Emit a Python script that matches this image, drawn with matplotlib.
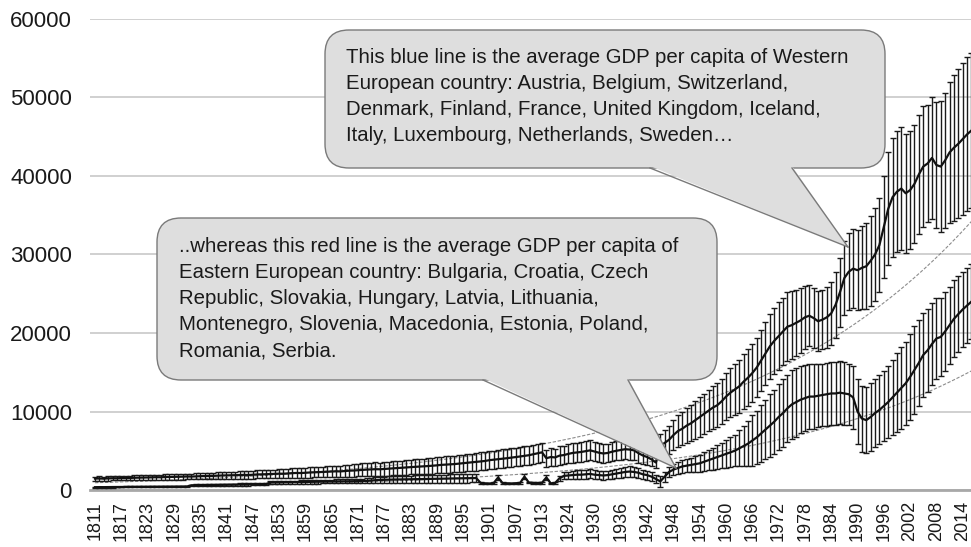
import matplotlib
matplotlib.use("Agg")
import matplotlib.pyplot as plt
import numpy as np
from matplotlib.patches import FancyBboxPatch, Polygon
from matplotlib.transforms import IdentityTransform

plt.rcParams['font.family'] = ['Liberation Sans', 'DejaVu Sans']

# years in the series (gap after 1913)
years = list(range(1811, 1914)) + list(range(1919, 2017))

# Western Europe: mean GDP per capita and error (+/-)
west_mean = [
    1450, 1470, 1440, 1480, 1500, 1490, 1520, 1510, 1540, 1560,
    1570, 1590, 1580, 1610, 1630, 1620, 1650, 1660, 1680, 1690,
    1700, 1720, 1710, 1740, 1760, 1770, 1790, 1800, 1830, 1850,
    1860, 1880, 1870, 1900, 1930, 1910, 1950, 1980, 1990, 2010,
    2040, 2060, 2080, 2070, 2110, 2150, 2170, 2160, 2200, 2230,
    2250, 2280, 2300, 2330, 2360, 2380, 2370, 2420, 2460, 2480,
    2520, 2560, 2600, 2620, 2650, 2640, 2680, 2720, 2750, 2790,
    2840, 2880, 2910, 2950, 2980, 3020, 3050, 3090, 3140, 3200,
    3230, 3270, 3300, 3360, 3420, 3480, 3530, 3580, 3640, 3700,
    3800, 3860, 3920, 3990, 4050, 4120, 4200, 4270, 4350, 4430,
    4550, 4680, 4800,
    4050, 4200, 4150, 4380, 4450,
    4600, 4720, 4780, 4850, 4950, 5050, 4900,
    4750, 4650, 4720, 4880, 5000, 5100, 5200, 5150, 5050, 4700,
    4400, 4200, 3900, 3500, 5600, 6000, 6400, 7000, 7500, 7800,
    8200, 8500, 8900, 9300, 9700, 10100, 10500, 10800, 11300, 11900,
    12400, 12800, 13200, 13800, 14300, 14900, 15600, 16500, 17400, 18300,
    19000, 19600, 20200, 20800, 21000, 21300, 21600, 22000, 22200, 21900,
    21500, 21700, 22000, 22500, 23600, 25200, 27000, 27800, 28200, 28000,
    28300, 28500, 29200, 30000, 31200, 33500, 35800, 37300, 38000, 38400,
    37800, 38200, 39000, 40200, 41200, 41600, 42300, 41400, 41200, 42000,
    43000, 43600, 44100, 44700, 45300, 45800,
]
west_err = [
    250, 260, 250, 270, 280, 270, 290, 280, 300, 300,
    310, 320, 310, 330, 330, 340, 350, 340, 360, 360,
    370, 380, 370, 390, 400, 400, 410, 420, 430, 440,
    450, 460, 450, 470, 480, 480, 500, 510, 520, 530,
    540, 550, 560, 560, 580, 600, 610, 600, 620, 640,
    650, 670, 680, 700, 720, 730, 720, 750, 770, 780,
    800, 820, 840, 850, 860, 860, 870, 880, 890, 900,
    900, 910, 930, 940, 960, 970, 990, 1000, 1020, 1030,
    1040, 1050, 1060, 1080, 1090, 1100, 1110, 1120, 1140, 1150,
    1150, 1160, 1160, 1170, 1180, 1180, 1190, 1200, 1200, 1210,
    1210, 1220, 1230,
    1100, 1150, 1120, 1180, 1200,
    1200, 1220, 1230, 1250, 1260, 1280, 1250,
    1200, 1180, 1200, 1220, 1240, 1260, 1280, 1270, 1250, 1200,
    1150, 1000, 900, 750, 1500, 1700, 1800, 1900, 2000, 2100,
    2200, 2300, 2400, 2500, 2550, 2600, 2700, 2800, 2900, 3000,
    3100, 3200, 3400, 3500, 3600, 3700, 3800, 3900, 4000, 4100,
    4200, 4300, 4300, 4400, 4300, 4200, 4100, 4000, 3900, 3800,
    3800, 3800, 3900, 4000, 4200, 4400, 4700, 4900, 5000, 5100,
    5300, 5500, 5700, 5900, 6000, 6500, 7200, 7600, 7700, 7800,
    7600, 7500, 7500, 7600, 7700, 7500, 7800, 8000, 8300, 8600,
    9000, 9300, 9500, 9700, 9800, 9900,
]

# Eastern Europe: mean GDP per capita and error (+/-)
east_mean = [
    360, 370, 365, 375, 380, 380, 385, 390, 395, 400,
    400, 405, 410, 410, 415, 420, 420, 425, 430, 435,
    440, 445, 600, 610, 620, 630, 640, 650, 655, 660,
    670, 680, 690, 700, 700, 710, 720, 730, 740, 750,
    950, 960, 980, 990, 1000, 1000, 1010, 1020, 1030, 1040,
    1040, 1050, 1060, 1070, 1080, 1090, 1100, 1100, 1110, 1120,
    1130, 1140, 1150, 1200, 1250, 1280, 1300, 1320, 1330, 1340,
    1350, 1360, 1370, 1380, 1390, 1400, 1410, 1420, 1430, 1440,
    1450, 1460, 1470, 1480, 1490, 1500, 1510, 1520, 900, 850,
    820, 900, 1600, 880, 850, 830, 860, 900, 1700, 950,
    900, 880, 920,
    1600, 850, 900, 1500, 1800,
    1850, 1900, 1950, 1950, 2000, 2050, 1950,
    1900, 1850, 1900, 2000, 2100, 2200, 2300, 2350, 2300, 2200,
    2000, 1900, 1700, 1400, 1100, 1700, 2300, 2600, 2800, 3000,
    3100, 3200, 3300, 3400, 3600, 3800, 4000, 4200, 4400, 4600,
    4800, 5000, 5300, 5600, 5900, 6300, 6700, 7200, 7700, 8200,
    8700, 9300, 9800, 10400, 10900, 11200, 11500, 11700, 11900, 11900,
    12000, 12100, 12200, 12300, 12300, 12400, 12300, 12200, 11800, 10000,
    9100, 8900, 9300, 9800, 10200, 10700, 11200, 11800, 12400, 13000,
    13600, 14400, 15300, 16200, 17200, 17800, 18600, 19300, 19500, 20200,
    21000, 21800, 22400, 23000, 23500, 24000,
]
east_err = [
    50, 60, 55, 60, 65, 60, 60, 65, 60, 60,
    60, 65, 60, 70, 65, 70, 70, 65, 70, 70,
    70, 70, 100, 100, 110, 110, 110, 120, 120, 120,
    120, 130, 130, 130, 140, 140, 140, 150, 150, 150,
    180, 180, 190, 190, 200, 200, 200, 210, 210, 220,
    220, 230, 230, 240, 240, 250, 250, 260, 260, 270,
    280, 300, 320, 340, 360, 380, 400, 410, 420, 430,
    440, 450, 460, 470, 480, 490, 500, 500, 510, 520,
    520, 530, 530, 540, 540, 550, 550, 560, 80, 80,
    80, 90, 300, 90, 80, 80, 90, 90, 300, 100,
    90, 90, 100,
    300, 90, 100, 300, 450,
    500, 520, 540, 550, 560, 580, 560,
    550, 540, 550, 580, 600, 620, 640, 650, 640, 620,
    600, 580, 550, 500, 700, 650, 650, 700, 750, 800,
    850, 900, 1000, 1100, 1200, 1300, 1400, 1500, 1650, 1800,
    1900, 2000, 2300, 2600, 2900, 3200, 3400, 3600, 3800, 4000,
    4100, 4200, 4300, 4300, 4400, 4400, 4300, 4200, 4100, 4100,
    4000, 4000, 4000, 4000, 4000, 4000, 4000, 3900, 4000, 4100,
    4200, 4250, 4300, 4300, 4400, 4500, 4600, 4800, 5000, 5200,
    5300, 5500, 5600, 5500, 5400, 5300, 5200, 5100, 5000, 5000,
    4900, 4900, 4800, 4800, 4800, 4800,
]

west_note = ("This blue line is the average GDP per capita of Western\n"
             "European country: Austria, Belgium, Switzerland,\n"
             "Denmark, Finland, France, United Kingdom, Iceland,\n"
             "Italy, Luxembourg, Netherlands, Sweden\u2026")
east_note = ("..whereas this red line is the average GDP per capita of\n"
             "Eastern European country: Bulgaria, Croatia, Czech\n"
             "Republic, Slovakia, Hungary, Latvia, Lithuania,\n"
             "Montenegro, Slovenia, Macedonia, Estonia, Poland,\n"
             "Romania, Serbia.")

W, H = 971, 547
fig = plt.figure(figsize=(W / 100, H / 100), dpi=100)
ax = fig.add_axes([90 / W, (H - 490) / H, 1 - 90 / W, (490 - 19) / H])

x = np.arange(len(years))

# exponential trend lines fitted to each mean series
for mean in (west_mean, east_mean):
    b, a = np.polyfit(x, np.log(mean), 1)
    xt = np.linspace(x[0], x[-1], 300)
    ax.plot(xt, np.exp(a + b * xt), color='#8c8c8c', lw=0.8,
            ls=(0, (3, 1.5)), zorder=2)

for mean, err in ((west_mean, west_err), (east_mean, east_err)):
    ax.errorbar(x, mean, yerr=err, color='#111111', lw=1.6,
                ecolor='#1a1a1a', elinewidth=1.0, capsize=2.3,
                capthick=1.0, zorder=3)

ax.set_ylim(0, 60000)
ax.set_xlim(-1.14, 199.9)
ax.set_yticks(range(0, 60001, 10000))
ax.set_xticks(x[::6])
ax.set_xticklabels([str(y) for y in years[::6]], rotation=90,
                   fontsize=13, color='#1a1a1a')
ax.tick_params(axis='y', length=0, pad=13, labelsize=16,
               labelcolor='#1a1a1a')
ax.tick_params(axis='x', length=0, pad=8)
ax.grid(axis='y', color='#c4c4c4', lw=1.1)
ax.set_axisbelow(True)
for side in ('top', 'right', 'left'):
    ax.spines[side].set_visible(False)
ax.spines['bottom'].set_color('#a8a8a8')
ax.spines['bottom'].set_linewidth(2)


def callout(left, top, right, bottom, base_l, base_r, tip, text, tx, ty):
    # pixel coordinates measured from the top-left corner
    def p(px, py):
        return (px, H - py)
    x0, y0 = p(left, bottom)
    box = FancyBboxPatch((x0, y0), right - left, bottom - top,
                         boxstyle='round,pad=0,rounding_size=24',
                         transform=IdentityTransform(), facecolor='#dedede',
                         edgecolor='#7a7a7a', lw=1.0, zorder=5)
    fig.add_artist(box)
    tri = Polygon([p(base_l, bottom - 2), p(base_r, bottom - 2), p(*tip)],
                  closed=True, transform=IdentityTransform(),
                  facecolor='#dedede', edgecolor='none', zorder=6)
    fig.add_artist(tri)
    for bx in (base_l, base_r):
        xs, ys = zip(p(bx, bottom), p(*tip))
        line = plt.Line2D(xs, ys, color='#7a7a7a', lw=1.0,
                          transform=IdentityTransform(), zorder=7)
        fig.add_artist(line)
    fig.text(*p(tx, ty), text, transform=IdentityTransform(), fontsize=14.7,
             color='#1a1a1a', va='top', ha='left', linespacing=1.47, zorder=8)


callout(325, 30, 885, 168, 650, 792, (848, 247), west_note, 346, 48)
callout(157, 218, 717, 380, 483, 628, (676, 468), east_note, 179, 237)

fig.savefig('out.png', dpi=100)
